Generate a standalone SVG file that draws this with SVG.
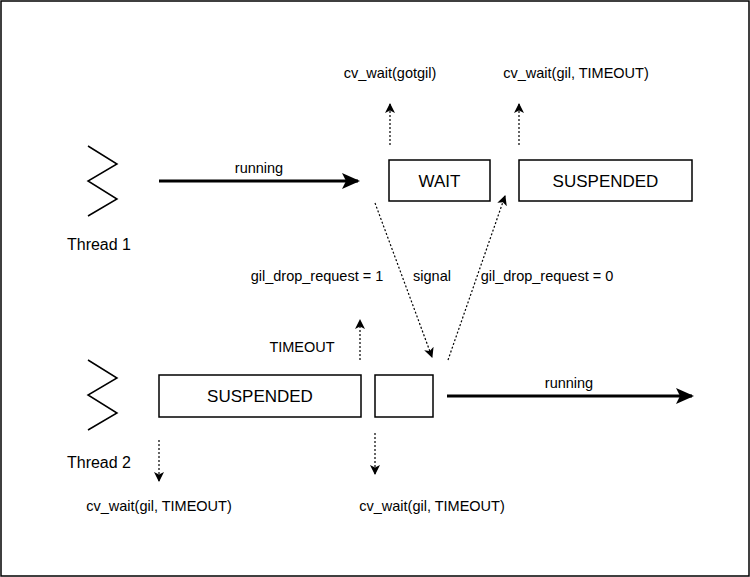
<svg xmlns="http://www.w3.org/2000/svg" width="750" height="577" viewBox="0 0 750 577">
<style>
text{font-family:"Liberation Sans",Arial,sans-serif;fill:#000}
.s{font-size:14.5px}.b{font-size:17px}.t{font-size:16px}
.box{fill:#fff;stroke:#000;stroke-width:1.5}
.dot{stroke:#000;stroke-width:1.2;stroke-dasharray:2 2;fill:none}
.thick{stroke:#000;stroke-width:3;fill:none}
.zz{stroke:#000;stroke-width:1.5;fill:none}
</style>
<defs>
<marker id="ah" markerWidth="12" markerHeight="12" refX="9" refY="5" orient="auto" markerUnits="userSpaceOnUse"><path d="M0,0 L10,5 L0,10 L2.5,5 z" fill="#000"/></marker>
<marker id="ahb" markerWidth="20" markerHeight="16" refX="16" refY="8" orient="auto" markerUnits="userSpaceOnUse"><path d="M0,0 L18,8 L0,16 L4,8 z" fill="#000"/></marker>
</defs>
<rect x="1" y="1" width="748" height="575" fill="#fff" stroke="#000" stroke-width="1.5"/>
<g id="thread1">
<polyline class="zz" points="88,146 117,164 88,181 117,199 88,216"/>
<text class="t" x="99" y="250" text-anchor="middle">Thread 1</text>
</g>
<g id="thread2">
<polyline class="zz" points="88,360 117,378 88,395 117,413 88,430"/>
<text class="t" x="99" y="468" text-anchor="middle">Thread 2</text>
</g>
<g id="wait"><rect class="box" x="389" y="160" width="101" height="41"/><text class="b" x="439.5" y="186.5" text-anchor="middle">WAIT</text></g>
<g id="suspended1"><rect class="box" x="519" y="160" width="173" height="41"/><text class="b" x="605.5" y="186.5" text-anchor="middle">SUSPENDED</text></g>
<g id="suspended2"><rect class="box" x="159" y="375" width="202" height="42"/><text class="b" x="260" y="401.5" text-anchor="middle">SUSPENDED</text></g>
<g id="small"><rect class="box" x="375" y="375" width="58" height="42"/></g>
<g id="connectors">
<line class="thick" x1="159" y1="181" x2="358" y2="181" marker-end="url(#ahb)"/>
<line class="thick" x1="447" y1="396" x2="692" y2="396" marker-end="url(#ahb)"/>
<line class="dot" x1="390" y1="145" x2="390" y2="104" marker-end="url(#ah)"/>
<line class="dot" x1="519" y1="145" x2="519" y2="104" marker-end="url(#ah)"/>
<line class="dot" x1="375" y1="203" x2="432" y2="357" marker-end="url(#ah)"/>
<line class="dot" x1="448" y1="360" x2="505" y2="196" marker-end="url(#ah)"/>
<line class="dot" x1="360" y1="360" x2="360" y2="320" marker-end="url(#ah)"/>
<line class="dot" x1="159" y1="440" x2="159" y2="481" marker-end="url(#ah)"/>
<line class="dot" x1="375" y1="433" x2="375" y2="474" marker-end="url(#ah)"/>
</g>
<g id="labels">
<text class="s" x="259" y="173" text-anchor="middle">running</text>
<text class="s" x="569" y="388" text-anchor="middle">running</text>
<text class="s" x="390" y="78" text-anchor="middle">cv_wait(gotgil)</text>
<text class="s" x="576" y="78" text-anchor="middle">cv_wait(gil, TIMEOUT)</text>
<text class="s" x="317" y="281" text-anchor="middle">gil_drop_request = 1</text>
<text class="s" x="432" y="281" text-anchor="middle">signal</text>
<text class="s" x="547" y="281" text-anchor="middle">gil_drop_request = 0</text>
<text class="s" x="302" y="352" text-anchor="middle">TIMEOUT</text>
<text class="s" x="159" y="511" text-anchor="middle">cv_wait(gil, TIMEOUT)</text>
<text class="s" x="432" y="511" text-anchor="middle">cv_wait(gil, TIMEOUT)</text>
</g>
</svg>
